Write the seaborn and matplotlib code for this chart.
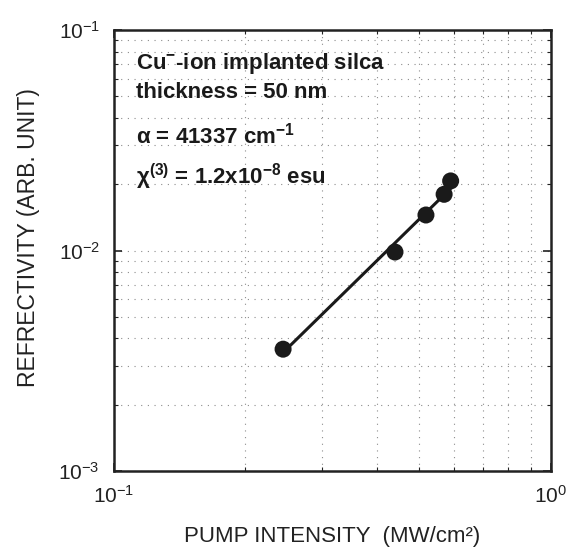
import numpy as np
import pandas as pd
import matplotlib
matplotlib.use("Agg")
import matplotlib.pyplot as plt
from matplotlib.ticker import NullFormatter
import seaborn as sns

# data (log-log)
pump_intensity = [0.244, 0.44, 0.518, 0.57, 0.59]
reflectivity = [0.00357, 0.00985, 0.0145, 0.018, 0.0207]

note_lines = [r"Cu$^{\mathbf{-}}$-ion implanted silca", "thickness = 50 nm",
              "\u03b1 = 41337 cm$^{\\mathbf{-1}}$",
              "\u03c7$^{\\mathbf{(3)}}$ = 1.2x10$^{\\mathbf{-8}}$ esu"]
note_y = [0.925, 0.859, 0.762, 0.667]

df = pd.DataFrame({"I": pump_intensity, "R": reflectivity})

# power-law fit for the straight line
k, b = np.polyfit(np.log10(df["I"]), np.log10(df["R"]), 1)
fit = pd.DataFrame({"I": [df["I"].min(), df["I"].max()]})
fit["R"] = 10 ** (b + k * np.log10(fit["I"]))

sns.set_style("ticks")
plt.rcParams["font.family"] = ["Liberation Sans", "DejaVu Sans"]
plt.rcParams["mathtext.fontset"] = "custom"
plt.rcParams["mathtext.rm"] = "Liberation Sans"
plt.rcParams["mathtext.it"] = "Liberation Sans:italic"
plt.rcParams["mathtext.bf"] = "Liberation Sans:bold"

fig = plt.figure(figsize=(5.69, 5.48), dpi=100)
ax = fig.add_axes([0.200, 0.1405, 0.768, 0.8045])

sns.lineplot(data=fit, x="I", y="R", ax=ax, color="#1a1a1a", linewidth=2.2)
sns.scatterplot(data=df, x="I", y="R", ax=ax, color="#1a1a1a", s=150, edgecolor="none", zorder=5)

ax.set_xscale("log")
ax.set_yscale("log")
ax.set_xlim(0.1, 1)
ax.set_ylim(1e-3, 1e-1)
ax.xaxis.set_minor_formatter(NullFormatter())
ax.yaxis.set_minor_formatter(NullFormatter())

ax.grid(True, which="both", linestyle=(0, (1, 5)), color="0.55", linewidth=0.8)
ax.tick_params(which="both", direction="in", top=True, right=True, colors="#222222")
ax.tick_params(which="major", length=6, width=1.2, labelsize=15, pad=10)
ax.tick_params(which="minor", length=3, width=0.8)
for s in ax.spines.values():
    s.set_linewidth(1.8)
    s.set_color("#222222")

ax.set_xlabel("PUMP INTENSITY  (MW/cm\u00b2)", fontsize=16, labelpad=14, color="#222222")
ax.set_ylabel("REFRECTIVITY (ARB. UNIT)", fontsize=16.5, color="#222222")
ax.yaxis.set_label_coords(-0.17, 0.53)

for txt, yy in zip(note_lines, note_y):
    ax.text(0.05, yy, txt, transform=ax.transAxes, fontsize=16, fontweight="bold",
            va="center", ha="left", color="#1a1a1a")

fig.savefig("out.png", dpi=100)
